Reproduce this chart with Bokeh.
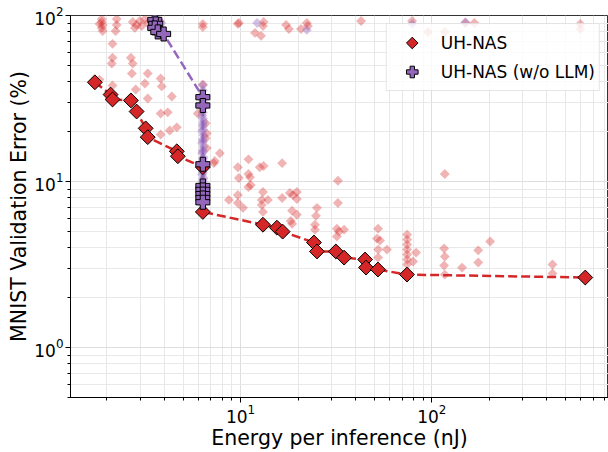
from bokeh.plotting import figure
from bokeh.models import Legend, LegendItem, FixedTicker, Range1d, ColumnDataSource
from bokeh.embed import file_html
from bokeh.resources import INLINE

# ---- data ----
pareto_energy = [1.73, 2.09, 2.14, 2.67, 2.86, 3.19, 3.27, 4.64, 4.70, 6.35, 6.35,
                 13.1, 15.5, 16.6, 24.2, 25.1, 31.5, 34.8, 44.8, 45.3, 52.3, 74.2, 635]
pareto_error = [39.6, 33.4, 31.2, 30.8, 26.4, 20.9, 18.5, 15.2, 14.2, 12.2, 6.56,
                5.49, 5.27, 4.99, 4.29, 3.79, 3.79, 3.48, 3.39, 3.03, 2.95, 2.75, 2.64]

nollm_front_energy = [3.56, 3.60, 3.56, 3.69, 3.96, 6.35, 6.35, 6.35, 6.35, 6.35, 6.35, 6.35, 6.35]
nollm_front_error = [94.0, 89.0, 84.2, 79.6, 77.4, 32.2, 28.7, 12.7, 9.4, 8.9, 8.4, 7.96, 7.5]

all_energy = [
    1.88, 1.88, 1.90, 1.88, 1.90, 1.83, 2.25, 2.25, 2.22, 2.73, 2.97, 3.04, 2.80, 3.16, 3.27, 2.86, 3.78,
    6.35, 6.35, 9.80, 9.68, 11.9, 12.8, 13.2, 13.1, 17.3, 17.9, 20.7, 22.2, 22.5, 42.7, 78.9, 95.7, 117,
    150, 167, 598, 598,
    2.14, 2.14, 2.12, 2.67, 2.73, 2.70, 3.27, 2.14, 2.83, 3.16, 3.82, 3.87, 3.27, 4.37, 3.82, 4.16, 4.64,
    4.26, 3.82, 1.83, 6.35, 5.97, 6.58, 6.66, 6.58, 6.66, 7.79, 7.33, 7.25,
    9.68, 11.0, 12.6, 13.2, 16.5, 9.80, 11.0, 11.2, 11.0, 11.3, 9.68, 8.69, 9.68, 10.3, 13.1, 12.9, 12.9,
    13.1, 13.9, 16.5, 18.1, 18.8, 19.7, 19.7, 18.6, 19.7, 18.3, 18.6, 25.1, 24.8, 24.5, 24.5, 32.3, 32.3,
    31.9, 32.7, 34.8, 31.9, 52.4, 51.7, 53.6, 52.4, 58.3, 52.4, 117,
    74.3, 74.3, 74.3, 74.3, 74.3, 74.3, 74.3, 82.8, 79.9, 116, 117, 116, 117, 144, 175, 175, 202, 428, 428]
all_error = [
    95.3, 91.4, 87.8, 84.2, 80.7, 89.0, 95.3, 87.8, 80.7, 91.4, 92.7, 86.5, 84.2, 95.3, 90.2, 87.8, 92.7,
    89.0, 85.3, 90.2, 89.0, 78.6, 75.4, 91.4, 86.5, 87.8, 83.0, 83.0, 90.2, 86.5, 92.7, 92.7, 79.6, 79.6,
    90.2, 90.2, 89.0, 83.0,
    67.5, 55.7, 51.3, 55.7, 51.3, 44.7, 44.7, 37.9, 35.8, 38.9, 41.7, 37.4, 31.6, 32.5, 25.7, 26.1, 21.2,
    20.3, 19.2, 41.1, 38.4, 25.7, 22.4, 19.5, 18.2, 15.9, 14.8, 13.3, 12.9,
    12.2, 13.6, 12.2, 12.4, 12.9, 10.5, 11.1, 10.6, 9.27, 9.53, 8.30, 7.75, 7.43, 6.94, 8.65, 7.75, 7.23,
    6.56, 7.75, 7.96, 8.53, 8.30, 8.65, 7.85, 6.66, 6.30, 5.79, 5.57, 6.94, 6.21, 5.49, 5.13, 10.1, 7.43,
    5.20, 4.99, 5.13, 4.66, 5.20, 4.53, 4.41, 3.89, 3.89, 3.48, 11.1,
    4.79, 4.47, 4.17, 3.89, 3.63, 3.39, 3.16, 3.73, 3.30, 3.95, 3.53, 3.12, 2.75, 3.03, 3.85, 3.25, 4.35, 3.16, 2.79]

nollm_all_energy = [6.35, 6.30, 6.40, 6.35, 6.30, 6.40, 6.35, 6.30, 6.40, 6.35, 6.30, 6.40, 6.35, 6.30,
                    6.40, 6.35, 6.30, 6.40, 6.35, 6.30, 6.40, 6.35, 6.30, 6.40, 6.35, 6.30, 6.40, 6.35,
                    6.35, 6.35, 6.35, 6.35, 6.35, 6.35, 6.35, 6.35, 6.35, 6.35, 6.35, 6.35,
                    3.56, 3.70, 3.85, 12.2, 22.2, 78.9, 150]
nollm_all_error = [38, 33, 30, 27.5, 25, 23, 21.5, 20, 19, 18, 17, 16.2, 15.5, 14.8, 14, 13.4, 12.8,
                   12.2, 11.6, 11, 10.5, 10, 9.6, 9.2, 8.8, 8.3, 7.9, 7.5,
                   35.5, 31.5, 28.5, 26, 24, 22.2, 20.6, 17.5, 15.1, 13.7, 11.3, 10.3,
                   95, 93, 90, 90.2, 81.9, 89, 91]

x_major = [10, 100]
x_minor = [2, 3, 4, 5, 6, 7, 8, 9, 20, 30, 40, 50, 60, 70, 80, 90, 200, 300, 400, 500, 600, 700, 800]
y_major = [1, 10, 100]
y_minor = [0.5, 0.6, 0.7, 0.8, 0.9, 2, 3, 4, 5, 6, 7, 8, 9, 20, 30, 40, 50, 60, 70, 80, 90]

RED = "#d62728"
PURPLE = "#9467bd"
FONT = "DejaVu Sans"

p = figure(width=608, height=452, x_axis_type="log", y_axis_type="log",
           x_range=Range1d(1.29, 840), y_range=Range1d(0.5, 100),
           output_backend="svg", toolbar_location=None,
           min_border_left=70, min_border_right=0, min_border_top=15, min_border_bottom=48)

p.xaxis.ticker = FixedTicker(ticks=x_major, minor_ticks=x_minor)
p.yaxis.ticker = FixedTicker(ticks=y_major, minor_ticks=y_minor)

for g in (p.xgrid, p.ygrid):
    g.grid_line_color = "#dedede"
    g.grid_line_width = 1
    g.minor_grid_line_color = "#e8e8e8"
    g.minor_grid_line_width = 1

p.outline_line_color = "black"
p.outline_line_width = 1
p.outline_line_alpha = 0.8

for ax in (p.xaxis, p.yaxis):
    ax.axis_line_color = "black"
    ax.major_tick_out = 5
    ax.major_tick_in = 0
    ax.minor_tick_out = 3
    ax.minor_tick_in = 0
    ax.major_tick_line_color = "black"
    ax.minor_tick_line_color = "black"
    ax.major_label_text_font = FONT
    ax.major_label_text_font_size = "17px"
    ax.major_label_text_color = "black"
    ax.axis_label_text_font = FONT
    ax.axis_label_text_font_size = "20.5px"
    ax.axis_label_text_font_style = "normal"
    ax.axis_label_text_color = "black"
    ax.major_label_standoff = 2
    ax.axis_label_standoff = 0
p.xaxis.major_label_standoff = 1

p.xaxis.axis_label = "Energy per inference (nJ)"
p.yaxis.axis_label = "MNIST Validation Error (%)"

# background explored points
p.scatter(all_energy, all_error, marker="square", angle=0.7854, size=7,
          fill_color=RED, fill_alpha=0.35, line_color=None)
p.scatter(nollm_all_energy, nollm_all_error, marker="square", angle=0.7854, size=7,
          fill_color=PURPLE, fill_alpha=0.4, line_color=None)

# pareto lines
p.line(pareto_energy, pareto_error, line_color=RED, line_width=2.5, line_dash="9 4")
p.line(nollm_front_energy, nollm_front_error, line_color=PURPLE, line_width=2.5, line_dash="9 4")

r_red = p.scatter(pareto_energy, pareto_error, marker="square", angle=0.7854, size=10.5,
                  fill_color=RED, line_color="black", line_width=1)
r_pur = p.scatter(nollm_front_energy, nollm_front_error, marker="plus", size=14,
                  fill_color=PURPLE, line_color="black", line_width=1)

# legend proxy (diamond swatch), holds no visible data
nan = float("nan")
proxy_red = None
try:
    from bokeh.models import Ngon
    proxy_src = ColumnDataSource(dict(x=[nan], y=[nan]))
    proxy_red = p.add_glyph(proxy_src, Ngon(x="x", y="y", radius=0.01, n=4,
                                            fill_color=RED, line_color="black", line_width=1))
except Exception:
    proxy_red = p.scatter([nan], [nan], marker="diamond", size=10,
                          fill_color=RED, line_color="black", line_width=1)

legend = Legend(items=[LegendItem(label="UH-NAS", renderers=[proxy_red]),
                       LegendItem(label="UH-NAS (w/o LLM)", renderers=[r_pur])],
                location="top_right")
legend.label_text_font = FONT
legend.label_text_font_size = "17px"
legend.label_text_color = "black"
legend.border_line_color = "#cccccc"
legend.border_line_width = 1
legend.background_fill_alpha = 0.8
legend.margin = 8
legend.padding = 4
legend.spacing = -3
legend.glyph_width = 42
legend.glyph_height = 29
legend.label_standoff = 8
p.add_layout(legend)

open("out.html", "w").write(file_html(p, INLINE))
